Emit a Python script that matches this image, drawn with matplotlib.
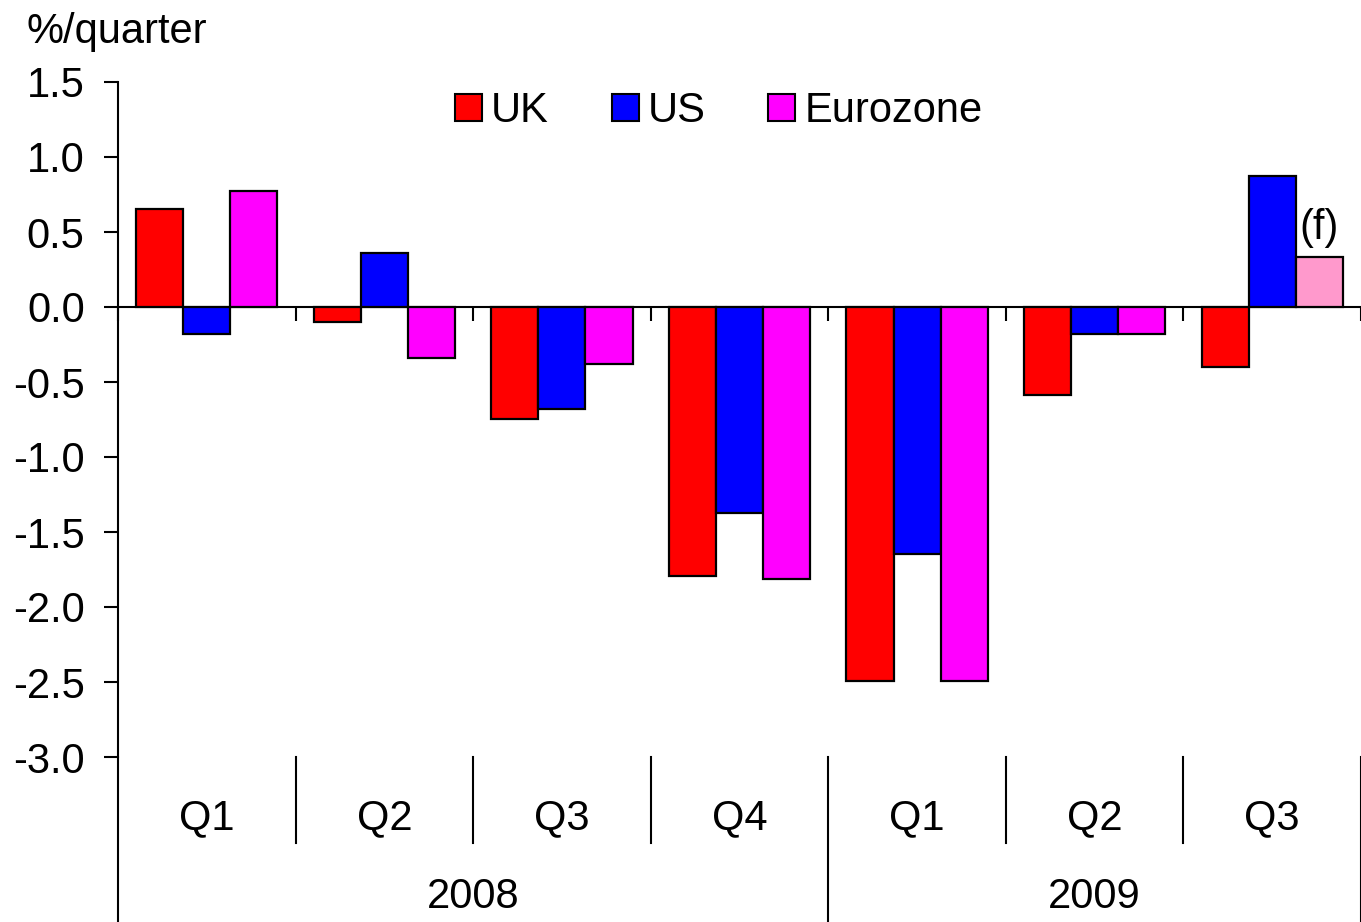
import numpy as np
import matplotlib.pyplot as plt
from matplotlib.patches import Patch
from matplotlib.ticker import FormatStrFormatter

plt.rcParams['font.family'] = ['Liberation Sans', 'DejaVu Sans']
plt.rcParams['axes.unicode_minus'] = False

# GDP growth, %/quarter
quarters = ["Q1", "Q2", "Q3", "Q4", "Q1", "Q2", "Q3"]
years = ["2008", "2009"]
year_spans = [(0, 4), (4, 7)]
uk = [0.65, -0.10, -0.75, -1.79, -2.49, -0.59, -0.40]
us = [-0.18, 0.36, -0.68, -1.37, -1.65, -0.18, 0.87]
eurozone = [0.77, -0.34, -0.38, -1.81, -2.49, -0.18, 0.33]
forecast = [False, False, False, False, False, False, True]  # Eurozone Q3 2009 is a forecast

FS = 30

fig = plt.figure(figsize=(13.61, 9.22), dpi=100)
ax = fig.add_axes([118 / 1361, 165 / 922, 1243 / 1361, 675 / 922])

x = np.arange(len(quarters)) + 0.5
w = 0.265
ez_colors = ["#FF99CC" if f else "#FF00FF" for f in forecast]
ax.bar(x - w, uk, w, color="#FF0000", edgecolor="black", linewidth=1.6, zorder=3)
ax.bar(x, us, w, color="#0000FF", edgecolor="black", linewidth=1.6, zorder=3)
ax.bar(x + w, eurozone, w, color=ez_colors, edgecolor="black", linewidth=1.6, zorder=3)

# forecast marker
for i, f in enumerate(forecast):
    if f:
        ax.annotate("(f)", (x[i] + w, eurozone[i]), xytext=(0, 7), textcoords="offset points",
                    ha="center", va="bottom", fontsize=FS)

ax.set_xlim(0, len(quarters))
ax.set_ylim(-3, 1.5)
ax.set_yticks(np.arange(-3, 1.51, 0.5))
ax.yaxis.set_major_formatter(FormatStrFormatter("%.1f"))
ax.tick_params(axis="y", direction="out", length=10, width=1.5, pad=14, labelsize=FS)

ax.spines["top"].set_visible(False)
ax.spines["right"].set_visible(False)
ax.spines["bottom"].set_position(("data", 0))
ax.spines["bottom"].set_linewidth(1.5)
ax.spines["left"].set_linewidth(1.5)
ax.set_xticks(range(len(quarters) + 1))
ax.set_xticklabels([])
ax.tick_params(axis="x", direction="out", length=10, width=1.5)

# two level category axis under the plot
trans = ax.get_xaxis_transform()
for i, q in enumerate(quarters):
    ax.text(x[i], -0.09, q, transform=trans, ha="center", va="center", fontsize=FS)
for yr, (a, b) in zip(years, year_spans):
    ax.text((a + b) / 2, -0.207, yr, transform=trans, ha="center", va="center", fontsize=FS)
for b in [1, 2, 3, 5, 6]:
    ax.plot([b, b], [0, -0.127], transform=trans, clip_on=False, color="black", lw=1.5)
for b in [0, 4, 7]:
    ax.plot([b, b], [0, -0.25], transform=trans, clip_on=False, color="black", lw=1.5)

handles = [Patch(facecolor=c, edgecolor="black", linewidth=1.5) for c in ["#FF0000", "#0000FF", "#FF00FF"]]
fig.legend(handles, ["UK", "US", "Eurozone"], loc="center left",
           bbox_to_anchor=(455 / 1361, 1 - 111 / 922), ncol=3, frameon=False, fontsize=FS,
           handlelength=0.65, handleheight=0.62, handletextpad=0.22, columnspacing=1.5,
           borderpad=0, borderaxespad=0)

fig.text(27 / 1361, 1 - 43 / 922, "%/quarter", fontsize=FS, va="baseline")

fig.savefig("out.png", dpi=100)
